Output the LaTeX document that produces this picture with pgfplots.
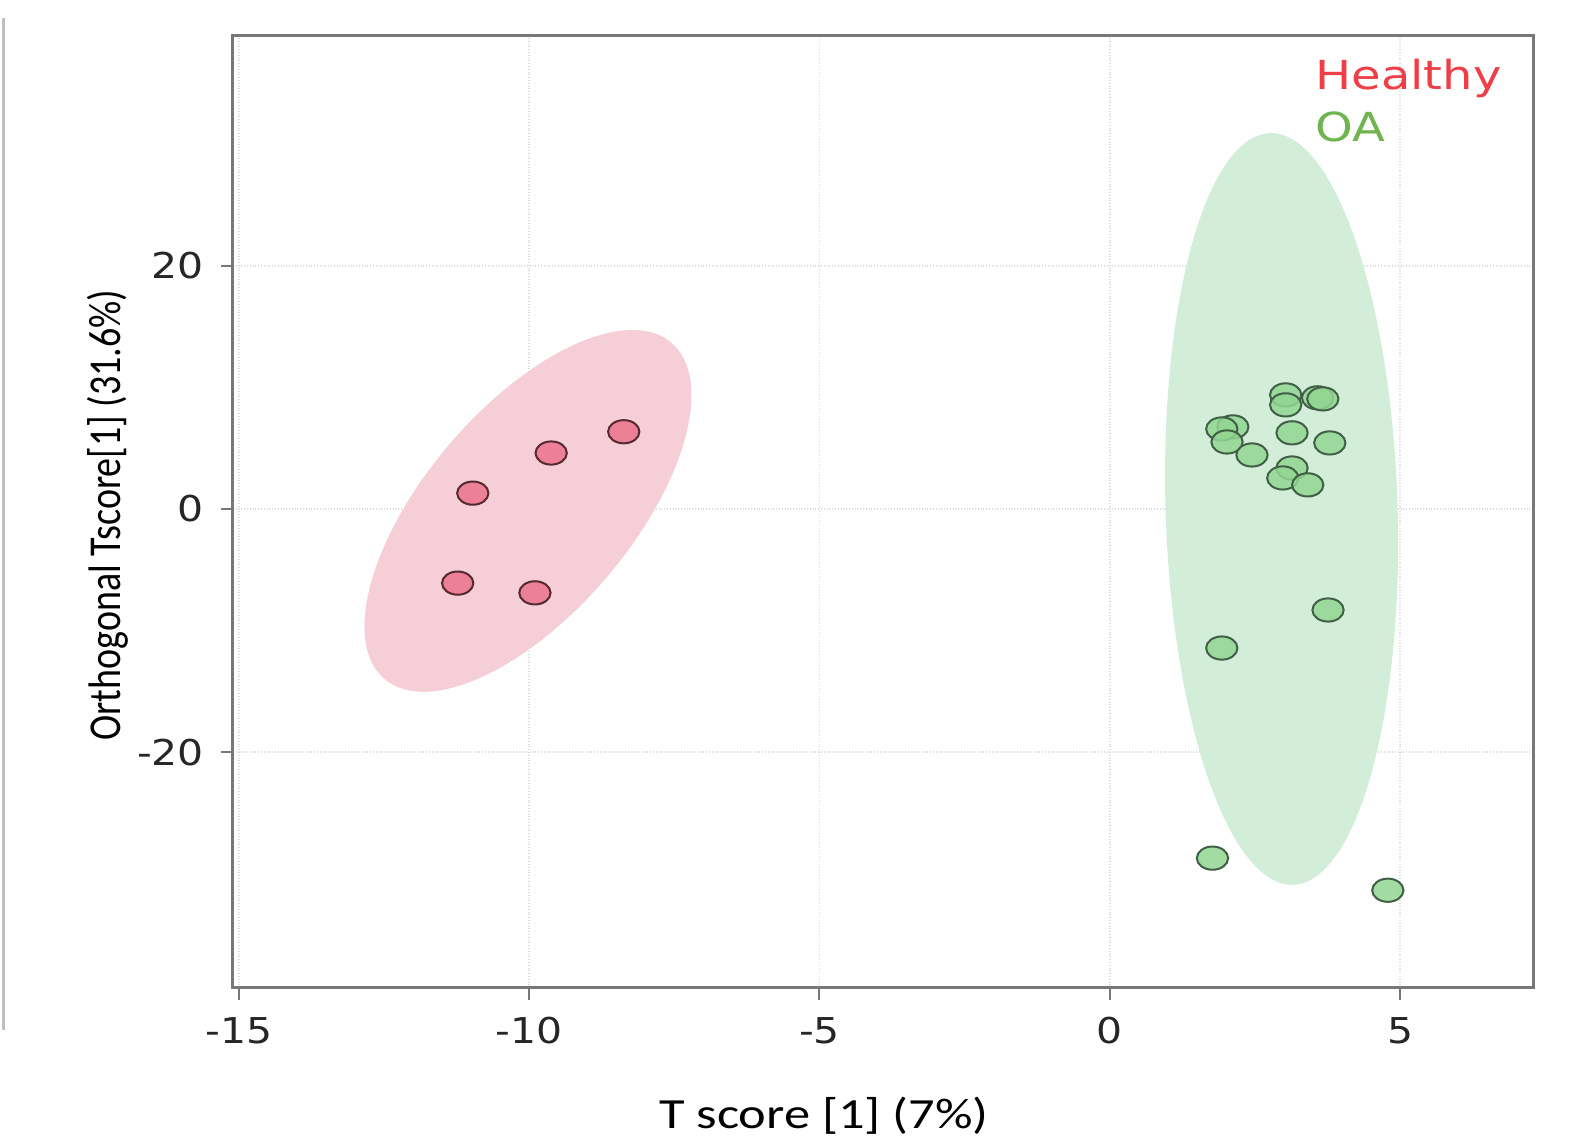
\documentclass[border=0pt]{standalone}
\usepackage{pgfplots}
\pgfplotsset{compat=1.18}
\usepackage{graphicx}
\usepackage{fontspec}
\setmainfont{DejaVu Sans}
\newfontfamily\carlito{Carlito}
\definecolor{pinkfill}{RGB}{246,206,216}
\definecolor{greenfill}{RGB}{211,238,216}
\definecolor{pinkmark}{RGB}{236,128,150}
\definecolor{pinkedge}{RGB}{85,40,50}
\definecolor{greenmark}{RGB}{146,214,146}
\definecolor{greenedge}{RGB}{65,95,70}
\definecolor{legred}{RGB}{238,62,72}
\definecolor{leggreen}{RGB}{112,180,80}
\definecolor{framegray}{RGB}{120,120,120}
\begin{document}
\begin{tikzpicture}[x=1pt,y=1pt]
\useasboundingbox (0,0) rectangle (785,571);
\draw[line width=1.5pt, black!25] (1.5,56) -- (1.5,562);
\begin{axis}[
  at={(116.5pt,77pt)}, anchor=south west,
  scale only axis, width=650pt, height=476pt,
  xmin=-15.10, xmax=7.29, ymin=-39.4, ymax=38.9,
  xtick={-15,-10,-5,0,5}, ytick={-20,0,20},
  axis line style={line width=1.5pt, framegray},
  tick style={line width=1pt, framegray},
  tick align=outside, major tick length=6pt,
  xtick pos=bottom, ytick pos=left,
  /pgf/number format/assume math mode=true,
  xticklabel={\scalebox{1.15}[1]{\pgfmathprintnumber{\tick}}},
  yticklabel={\scalebox{1.15}[1]{\pgfmathprintnumber{\tick}}},
  ticklabel style={font=\fontsize{17.8}{20}\selectfont, text=black!85},
  xticklabel style={yshift=-5pt},
  yticklabel style={xshift=-5pt},
  grid=major,
  major grid style={densely dotted, black!14, line width=0.8pt},
  axis on top=false,
]
\fill[pinkfill] (axis cs:-10.02,-0.16) ellipse [x radius=110.5pt, y radius=51.5pt, rotate=49.5];
\fill[greenfill] (axis cs:2.96,0.0) ellipse [x radius=58pt, y radius=188pt, rotate=1.75];
\addplot[only marks, mark=*, mark size=5.8pt,
  mark options={xscale=1.35, fill=pinkmark, draw=pinkedge, line width=1pt}]
  coordinates {(-8.37,6.35) (-9.62,4.6) (-10.97,1.3) (-11.23,-6.1) (-9.9,-6.9)};
\addplot[only marks, mark=*, mark size=5.8pt,
  mark options={xscale=1.35, fill=greenmark, draw=greenedge, line width=1pt, fill opacity=0.85}]
  coordinates {
   (3.03,9.38) (3.03,8.56) (3.58,9.14) (3.67,9.05) (2.12,6.75) (1.93,6.58)
   (2.02,5.51) (2.45,4.44) (3.14,6.26) (3.79,5.43) (3.14,3.37) (2.98,2.55)
   (3.41,1.98) (3.76,-8.31) (1.93,-11.44) (1.77,-28.72) (4.79,-31.36)};
\end{axis}
\node[anchor=base west, inner sep=0, text=legred, font=\fontsize{20}{22}\selectfont] at (657.5,526) {\scalebox{1.2}[1]{Healthy}};
\node[anchor=base west, inner sep=0, text=leggreen, font=\fontsize{20}{22}\selectfont] at (657.5,500) {\scalebox{1.2}[1]{OA}};
\node[anchor=base, inner sep=0, font=\carlito\fontsize{21.5}{24}\selectfont] at (412,7) {\scalebox{1.22}[1]{T score [1] (7\%)}};
\node[rotate=90, inner sep=0, font=\carlito\fontsize{19}{22}\selectfont] at (54,313.5) {\scalebox{1}[1.2]{Orthogonal Tscore[1] (31.6\%)}};
\end{tikzpicture}
\end{document}
